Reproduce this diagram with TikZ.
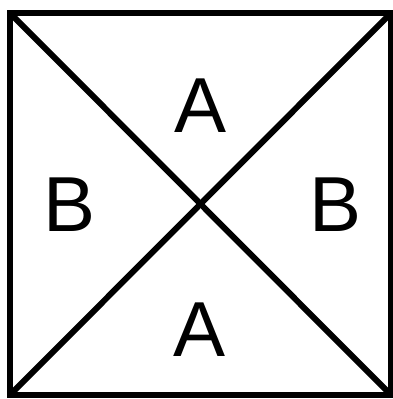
\documentclass[tikz,border=0pt]{standalone}
\usepackage{fontspec}
\setmainfont{Liberation Sans}
\begin{document}
\begin{tikzpicture}[x=1pt,y=1pt,
  edge/.style={line width=6pt, draw=black},
  lbl/.style={inner sep=0pt, font=\fontsize{78}{78}\selectfont}]
\useasboundingbox (0,0) rectangle (393,399);
\coordinate (tl) at (10,386);
\coordinate (tr) at (391,386);
\coordinate (br) at (391,4);
\coordinate (bl) at (10,4);
\draw[edge, line join=miter] (tl) -- (tr) -- (br) -- (bl) -- cycle;
\draw[edge] (tl) -- (br);
\draw[edge] (tr) -- (bl);
\node[lbl] (at) at (201,293) {A};
\node[lbl] (ab) at (200,69) {A};
\node[lbl] (bl1) at (70,194) {B};
\node[lbl] (br1) at (336,194) {B};
\end{tikzpicture}
\end{document}
